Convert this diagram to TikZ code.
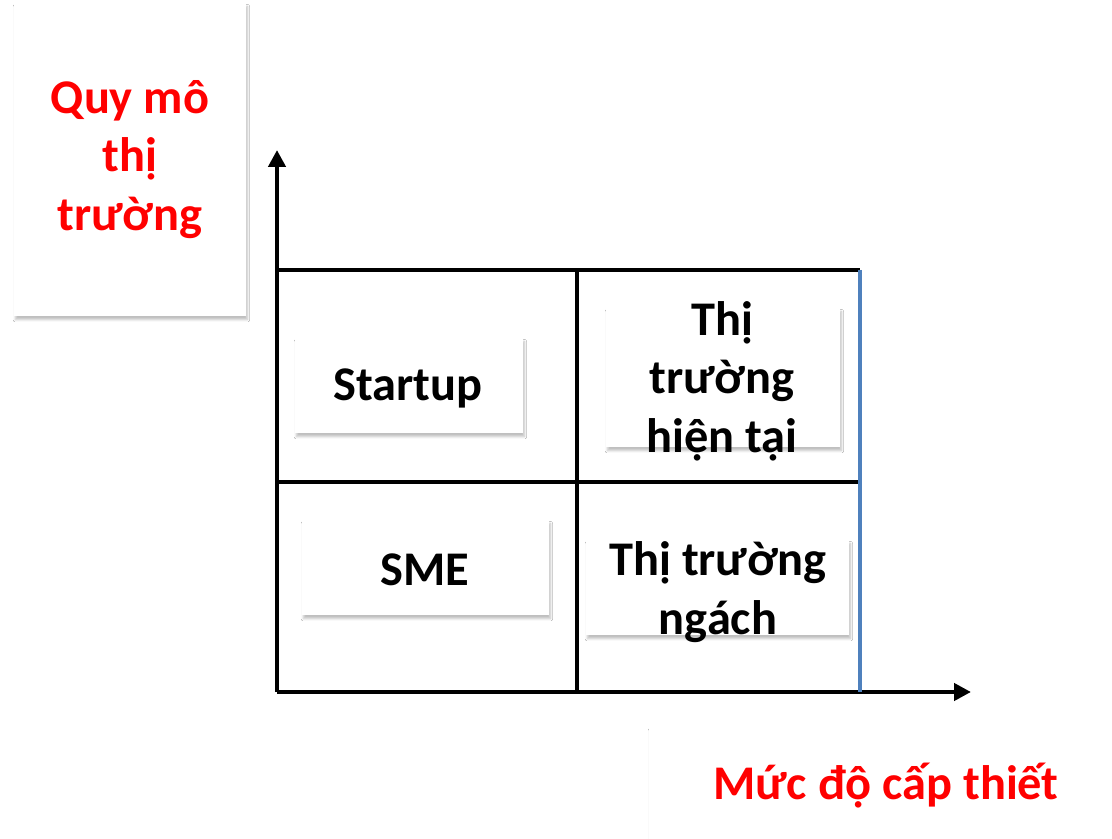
\documentclass[tikz,border=0pt]{standalone}
\usepackage{fontspec}
\setmainfont{Carlito}
\usetikzlibrary{arrows.meta,shadows.blur}
\definecolor{nhan}{HTML}{FF0000}
\definecolor{vach}{HTML}{4F81BD}
\tikzset{
  card/.style={rectangle, fill=white, inner sep=0pt,
               blur shadow={shadow xshift=1pt, shadow yshift=-2.6pt, shadow blur radius=1.6pt,
                            shadow blur steps=6, shadow opacity=25}},
  chu/.style={font=\fontsize{34.4}{41.5}\selectfont\bfseries, align=center, text=#1, inner sep=0pt},
  chu/.default=black,
  truc/.style={line width=3.4pt, draw=black},
  mui/.style={-{Triangle[length=12pt, width=12pt]}},
}
\begin{document}
\begin{tikzpicture}[x=0.025cm, y=-0.025cm]
  \useasboundingbox (0,0) rectangle (1112,839);
  \fill[white] (0,0) rectangle (1112,839);
  % khung truc
  \coordinate (O) at (277,692);
  \coordinate (ytop) at (277,150);
  \coordinate (xend) at (971,692);
  \coordinate (tl) at (277,270);
  \coordinate (tr) at (860,270);
  \coordinate (ml) at (277,482);
  \coordinate (mr) at (860,482);
  \coordinate (vt) at (577,270);
  \coordinate (vb) at (577,692);
  \coordinate (br) at (860,692);
  \draw[truc, mui] (O) -- (ytop);
  \draw[truc, mui] (O) -- (xend);
  \draw[truc] (tl) -- (tr);
  \draw[truc] (ml) -- (mr);
  \draw[truc] (vt) -- (vb);
  \draw[vach, line width=2.4pt] (tr) -- (br);
  % nhan truc
  \node[card, minimum width=5.8cm, minimum height=7.825cm] (quy) at (130,159.5) {};
  \node[chu=nhan] (quytxt) at (quy) {Quy mô\\thị\\trường};
  \node[card, minimum width=11.775cm, minimum height=3.075cm] (muc) at (884.5,788.5) {};
  \node[chu=nhan] (muctxt) at (886,786) {Mức độ cấp thiết};
  % o trong luoi
  \node[card, minimum width=5.7cm, minimum height=2.375cm] (startup) at (409,385.5) {};
  \node[chu] (startuptxt) at (408,388) {Startup};
  \node[card, minimum width=6.175cm, minimum height=2.375cm] (sme) at (425.5,567.5) {};
  \node[chu] (smetxt) at (425,570) {SME};
  \node[card, minimum width=5.85cm, minimum height=3.475cm] (hientai) at (723,377.5) {};
  \node[chu] (hientaitxt) at (722,381) {Thị\\trường\\hiện tại};
  \node[card, minimum width=6.575cm, minimum height=2.375cm] (ngach) at (717.5,587.5) {};
  \node[chu] (ngachtxt) at (718,592) {Thị trường\\ngách};
\end{tikzpicture}
\end{document}
